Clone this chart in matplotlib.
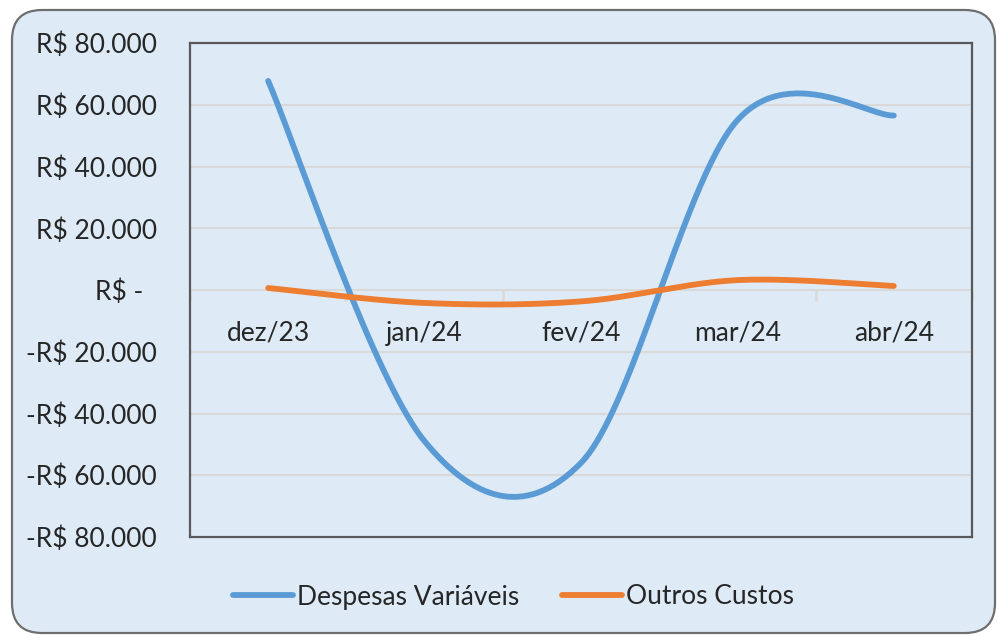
import matplotlib
matplotlib.use("Agg")
import matplotlib.pyplot as plt
import numpy as np
from matplotlib.patches import FancyBboxPatch

plt.rcParams['font.family'] = ['Lato', 'DejaVu Sans']

categories = ['dez/23', 'jan/24', 'fev/24', 'mar/24', 'abr/24']
despesas = [67700, -49000, -56000, 55000, 56500]
outros = [650, -4200, -3700, 3200, 1300]
yticks = [-80000, -60000, -40000, -20000, 0, 20000, 40000, 60000, 80000]

BG = '#deebf7'
BLUE = '#5b9bd5'
ORANGE = '#ed7d31'
GRID = '#d9d9d9'
TXT = '#262626'
FS = 19


def smooth(xs, ys, n=60):
    # excel-like smoothing: cubic bezier with catmull-rom control points
    xs = np.asarray(xs, float)
    ys = np.asarray(ys, float)
    px, py = [], []
    m = len(xs)
    for i in range(m - 1):
        i0 = max(i - 1, 0)
        i3 = min(i + 2, m - 1)
        c1x = xs[i] + (xs[i + 1] - xs[i0]) / 6
        c1y = ys[i] + (ys[i + 1] - ys[i0]) / 6
        c2x = xs[i + 1] - (xs[i3] - xs[i]) / 6
        c2y = ys[i + 1] - (ys[i3] - ys[i]) / 6
        t = np.linspace(0, 1, n)
        a, b, c, d = (1 - t) ** 3, 3 * t * (1 - t) ** 2, 3 * t ** 2 * (1 - t), t ** 3
        px.extend(a * xs[i] + b * c1x + c * c2x + d * xs[i + 1])
        py.extend(a * ys[i] + b * c1y + c * c2y + d * ys[i + 1])
    return np.array(px), np.array(py)


def fmt(v):
    if v == 0:
        return 'R$ -  '
    s = f"{abs(v):,.0f}".replace(',', '.')
    return ('-' if v < 0 else '') + 'R$ ' + s


fig = plt.figure(figsize=(9.97, 6.36), dpi=100)
fig.patch.set_facecolor('white')

frame = FancyBboxPatch((0.12, 0.03), 9.83, 6.23,
                       boxstyle='round,pad=0,rounding_size=0.3',
                       transform=fig.dpi_scale_trans, facecolor=BG,
                       edgecolor='#6e6e6e', linewidth=1.6, zorder=-5)
fig.patches.append(frame)

ax = fig.add_axes([190 / 997, 1 - 537 / 636, 782 / 997, 494 / 636])
ax.set_facecolor(BG)
ax.set_zorder(1)

x = np.arange(len(categories))
bx, by = smooth(x, despesas)
ox, oy = smooth(x, outros)
ax.plot(bx, by, color=BLUE, lw=4.2, solid_capstyle='round', zorder=4,
        label='Despesas Variáveis')
ax.plot(ox, oy, color=ORANGE, lw=4.2, solid_capstyle='round', zorder=4,
        label='Outros Custos')

ax.set_xlim(-0.5, len(categories) - 0.5)
ax.set_ylim(yticks[0], yticks[-1])
ax.set_yticks(yticks)
ax.set_yticklabels([fmt(v) for v in yticks], fontsize=FS, color=TXT)
ax.tick_params(axis='y', length=0, pad=24)
ax.set_xticks([])
ax.yaxis.grid(True, color=GRID, lw=1.6)
ax.set_axisbelow(True)
for s in ax.spines.values():
    s.set_color('#595959')
    s.set_linewidth(1.6)

# category axis crossing at zero
sec = ax.secondary_xaxis(0.5)
sec.xaxis.set_ticks_position('bottom')
sec.xaxis.set_label_position('bottom')
sec.set_xticks(x)
sec.set_xticklabels(categories, fontsize=FS, color=TXT)
sec.set_xticks(np.arange(len(categories) + 1) - 0.5, minor=True)
sec.tick_params(axis='x', which='both', bottom=True, top=False,
                labelbottom=True, labeltop=False)
sec.tick_params(axis='x', which='major', length=0, pad=22)
sec.tick_params(axis='x', which='minor', length=8, width=1.8, color=GRID)
sec.spines['bottom'].set_color(GRID)
sec.spines['bottom'].set_linewidth(2)
sec.spines['top'].set_visible(False)

leg = fig.legend(loc='center', bbox_to_anchor=(0.515, 1 - 597 / 636), ncol=2,
                 frameon=False, fontsize=FS, handlelength=2.3,
                 columnspacing=1.6, handletextpad=0.15)
for t in leg.get_texts():
    t.set_color(TXT)

fig.savefig('out.png', dpi=100, facecolor='white')
